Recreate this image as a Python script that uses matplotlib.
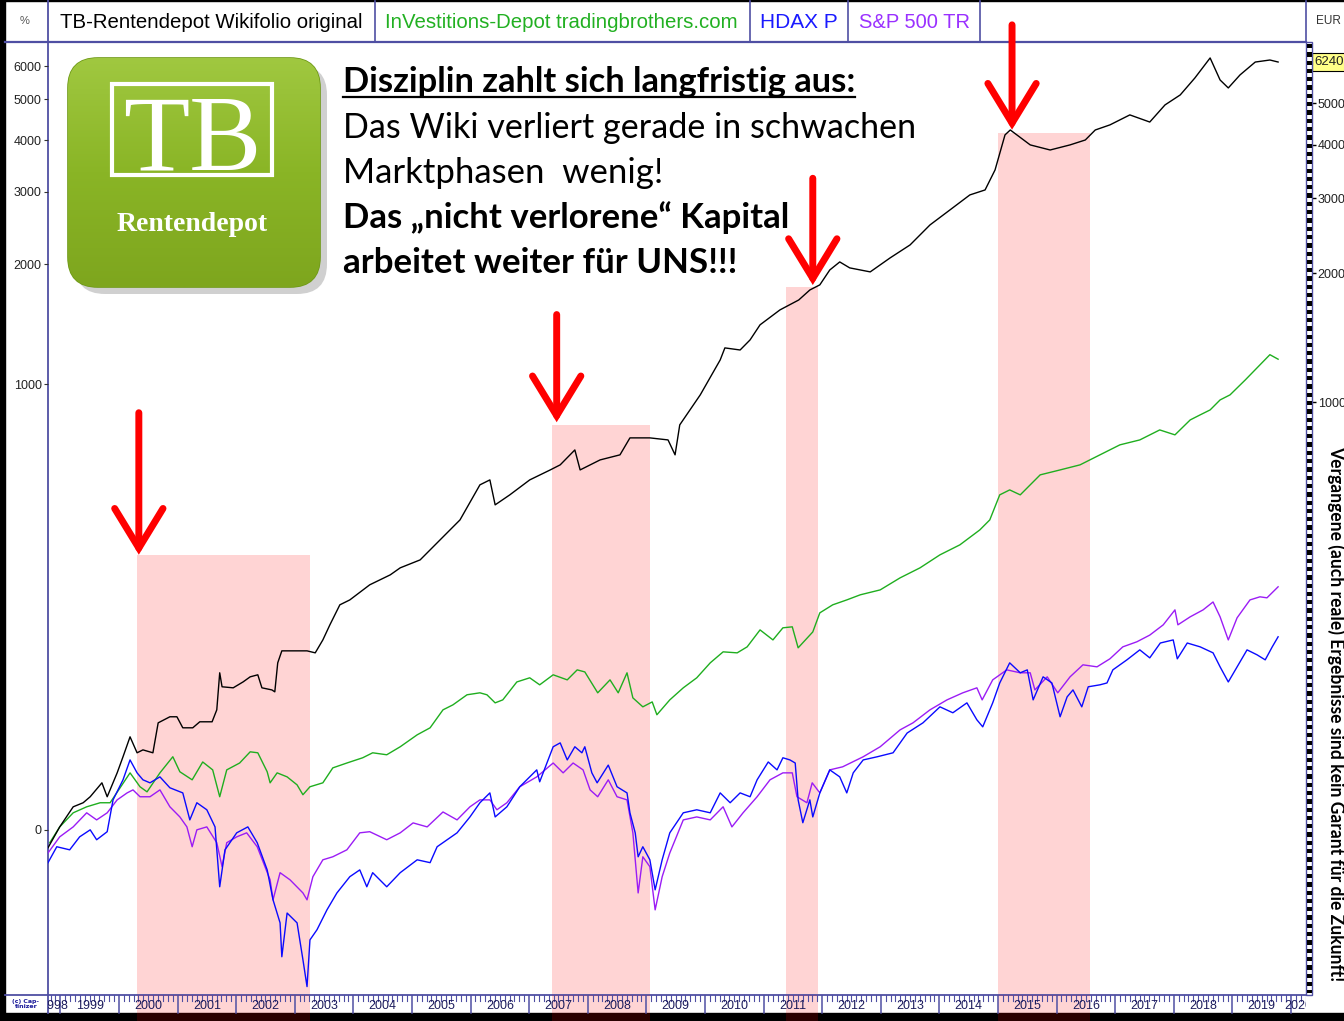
import numpy as np
import matplotlib
matplotlib.use("Agg")
import matplotlib.pyplot as plt
from matplotlib import font_manager
from matplotlib.patches import Rectangle, FancyBboxPatch

# --- data (performance in %) ---
tb_years = [1998.79, 1998.99, 1999.22, 1999.39, 1999.51, 1999.71, 1999.80, 1999.97, 2000.07, 2000.19,
            2000.31, 2000.41, 2000.58, 2000.67, 2000.87, 2000.99, 2001.09, 2001.26, 2001.38, 2001.59,
            2001.67, 2001.72, 2001.76, 2001.95, 2002.12, 2002.24, 2002.37, 2002.44, 2002.61, 2002.66,
            2002.71, 2002.78, 2003.21, 2003.35, 2003.48, 2003.60, 2003.77, 2003.94, 2004.28, 2004.63,
            2004.80, 2005.14, 2005.48, 2005.82, 2006.16, 2006.33, 2006.42, 2006.67, 2007.01, 2007.36,
            2007.53, 2007.78, 2007.87, 2008.21, 2008.55, 2008.72, 2009.06, 2009.37, 2009.49, 2009.57,
            2009.92, 2010.26, 2010.34, 2010.60, 2010.77, 2010.94, 2011.28, 2011.60, 2011.79, 2011.96,
            2012.13, 2012.30, 2012.47, 2012.82, 2013.16, 2013.50, 2013.84, 2014.18, 2014.52, 2014.78,
            2014.95, 2015.12, 2015.21, 2015.55, 2015.89, 2016.23, 2016.49, 2016.66, 2016.91, 2017.25,
            2017.59, 2017.85, 2018.11, 2018.36, 2018.62, 2018.79, 2018.93, 2019.13, 2019.39, 2019.64,
            2019.78]
tb_pct = [-9.2, 1.6, 13.2, 15.7, 19.5, 28.8, 19.5, 35.9, 48.2, 65.0,
          51.4, 53.8, 51.4, 77.9, 83.8, 83.8, 73.2, 73.2, 78.9, 78.9,
          90.8, 132.9, 116.0, 114.8, 121.8, 127.9, 130.4, 114.8, 112.4, 110.2,
          145.7, 162.1, 162.1, 159.3, 178.0, 201.5, 235.8, 244.8, 274.0, 294.6,
          309.8, 327.7, 376.3, 430.4, 540.6, 557.9, 475.2, 507.0, 557.9, 594.2,
          613.4, 673.1, 594.2, 632.6, 652.9, 724.9, 724.9, 715.9, 652.9, 784.8,
          939.9, 1155, 1239, 1224, 1298, 1416, 1543, 1633, 1729, 1780,
          1937, 2027, 1960, 1916, 2074, 2231, 2496, 2714, 2951, 3034,
          3390, 4115, 4228, 3894, 3786, 3894, 4001, 4228, 4348, 4594,
          4417, 4853, 5127, 5627, 6278, 5565, 5327, 5721, 6139, 6208,
          6140]

inv_years = [1998.82, 1998.99, 1999.22, 1999.45, 1999.68, 1999.85, 2000.02, 2000.19, 2000.36, 2000.48,
             2000.70, 2000.92, 2001.04, 2001.25, 2001.43, 2001.60, 2001.72, 2001.84, 2002.06, 2002.24,
             2002.37, 2002.53, 2002.58, 2002.70, 2002.87, 2003.04, 2003.14, 2003.26, 2003.48, 2003.65,
             2003.89, 2004.16, 2004.33, 2004.57, 2004.80, 2005.09, 2005.31, 2005.53, 2005.70, 2005.94,
             2006.16, 2006.28, 2006.42, 2006.55, 2006.79, 2007.01, 2007.18, 2007.41, 2007.65, 2007.82,
             2007.95, 2008.17, 2008.38, 2008.52, 2008.67, 2008.77, 2008.94, 2009.10, 2009.18, 2009.40,
             2009.63, 2009.86, 2010.09, 2010.31, 2010.55, 2010.72, 2010.94, 2011.16, 2011.33, 2011.49,
             2011.59, 2011.84, 2011.96, 2012.18, 2012.42, 2012.65, 2012.99, 2013.33, 2013.67, 2014.01,
             2014.35, 2014.69, 2014.86, 2015.03, 2015.20, 2015.38, 2015.55, 2015.72, 2016.06, 2016.40,
             2016.74, 2017.08, 2017.42, 2017.76, 2018.02, 2018.28, 2018.45, 2018.62, 2018.79, 2018.96,
             2019.22, 2019.47, 2019.64, 2019.78]
inv_pct = [-6.7, 1.6, 9.6, 13.2, 15.7, 15.7, 25.4, 35.9, 26.1, 22.7,
           35.9, 48.2, 36.7, 30.9, 44.1, 38.1, 19.5, 38.1, 43.3, 52.2,
           51.4, 36.7, 28.8, 35.9, 33.0, 27.4, 20.8, 26.1, 28.8, 39.6,
           43.3, 47.4, 51.4, 49.8, 56.4, 66.8, 73.2, 90.8, 96.0, 106.9,
           109.1, 106.9, 98.1, 101.3, 121.7, 126.7, 118.3, 130.4, 124.2, 136.6,
           134.0, 109.1, 124.2, 109.1, 132.9, 103.5, 93.9, 99.1, 85.8, 101.3,
           114.8, 126.7, 145.7, 160.7, 159.3, 167.8, 193.4, 178.0, 196.7, 198.3,
           166.4, 190.2, 221.6, 235.8, 244.8, 254.4, 263.9, 288.3, 309.8, 339.5,
           363.8, 402.6, 430.4, 507.0, 523.4, 507.0, 540.6, 576.0, 594.2, 613.4,
           652.9, 694.5, 715.9, 761.0, 738.4, 808.6, 833.7, 858.9, 911.9, 939.9,
           1027, 1122, 1191, 1160]

hdax_years = [1998.79, 1998.94, 1999.16, 1999.33, 1999.51, 1999.62, 1999.80, 1999.90, 2000.07, 2000.19,
              2000.31, 2000.41, 2000.53, 2000.70, 2000.87, 2001.09, 2001.21, 2001.33, 2001.50, 2001.64,
              2001.72, 2001.81, 2002.01, 2002.20, 2002.36, 2002.53, 2002.63, 2002.75, 2002.78, 2002.87,
              2003.04, 2003.14, 2003.21, 2003.26, 2003.38, 2003.55, 2003.72, 2003.94, 2004.11, 2004.23,
              2004.33, 2004.57, 2004.80, 2005.09, 2005.31, 2005.43, 2005.77, 2005.99, 2006.16, 2006.33,
              2006.42, 2006.62, 2006.84, 2007.13, 2007.18, 2007.41, 2007.53, 2007.65, 2007.78, 2007.90,
              2007.95, 2008.07, 2008.16, 2008.35, 2008.50, 2008.67, 2008.72, 2008.81, 2008.86, 2008.94,
              2009.06, 2009.15, 2009.27, 2009.40, 2009.63, 2009.86, 2010.09, 2010.26, 2010.43, 2010.60,
              2010.77, 2010.89, 2011.08, 2011.23, 2011.33, 2011.45, 2011.54, 2011.59, 2011.67, 2011.79,
              2011.84, 2011.96, 2012.13, 2012.30, 2012.42, 2012.53, 2012.70, 2012.94, 2013.21, 2013.45,
              2013.72, 2014.01, 2014.23, 2014.47, 2014.64, 2014.74, 2014.91, 2015.03, 2015.20, 2015.38,
              2015.50, 2015.60, 2015.77, 2015.92, 2016.06, 2016.18, 2016.28, 2016.43, 2016.54, 2016.74,
              2016.86, 2016.96, 2017.20, 2017.42, 2017.59, 2017.77, 2017.99, 2018.06, 2018.23, 2018.45,
              2018.67, 2018.79, 2018.93, 2019.08, 2019.25, 2019.42, 2019.56, 2019.68, 2019.78]
hdax_pct = [-16.2, -8.7, -10.2, -3.7, 0.0, -5.2, -1.0, 17.5, 30.9, 45.7,
            35.9, 30.9, 28.8, 33.0, 25.4, 22.0, 5.5, 15.7, 11.4, 1.6,
            -26.4, -10.2, -1.6, 1.6, -6.7, -19.4, -31.4, -39.4, -49.5, -36.1,
            -39.4, -50.3, -57.0, -44.7, -41.6, -35.0, -28.8, -22.3, -19.4, -26.4,
            -20.6, -26.4, -20.6, -14.9, -16.2, -8.7, -1.6, 7.2, 15.7, 22.0,
            7.2, 13.2, 26.1, 38.1, 29.5, 56.4, 59.7, 45.7, 56.4, 51.4,
            56.4, 35.9, 28.8, 41.7, 26.1, 22.0, 9.6, -1.6, -13.5, -8.7,
            -14.9, -27.6, -14.9, -1.6, 9.6, 11.4, 9.6, 22.0, 15.7, 22.0,
            19.5, 30.9, 44.1, 38.1, 47.4, 45.7, 43.3, 17.5, 3.9, 17.5,
            7.2, 22.0, 38.1, 33.0, 22.0, 35.9, 45.7, 48.2, 51.4, 68.4,
            77.9, 93.9, 87.8, 98.1, 80.8, 74.1, 98.1, 120.5, 145.7, 132.9,
            136.6, 101.3, 127.9, 120.5, 83.8, 104.6, 112.4, 93.9, 116.0, 118.3,
            120.5, 136.6, 149.7, 163.5, 152.4, 173.4, 178.0, 151.1, 173.4, 167.8,
            159.3, 140.5, 121.7, 140.5, 163.5, 156.6, 149.7, 167.8, 182.7]

spx_years = [1998.79, 1998.99, 1999.22, 1999.45, 1999.62, 1999.80, 1999.97, 2000.14, 2000.24, 2000.36,
             2000.53, 2000.70, 2000.87, 2001.04, 2001.16, 2001.25, 2001.33, 2001.50, 2001.67, 2001.76,
             2001.84, 2002.01, 2002.18, 2002.36, 2002.58, 2002.63, 2002.75, 2002.92, 2003.14, 2003.21,
             2003.31, 2003.48, 2003.65, 2003.89, 2004.11, 2004.28, 2004.57, 2004.80, 2005.02, 2005.26,
             2005.53, 2005.77, 2005.99, 2006.16, 2006.33, 2006.45, 2006.62, 2006.84, 2007.13, 2007.41,
             2007.58, 2007.75, 2007.92, 2008.04, 2008.17, 2008.35, 2008.50, 2008.67, 2008.77, 2008.86,
             2008.94, 2009.06, 2009.15, 2009.27, 2009.40, 2009.63, 2009.86, 2010.09, 2010.31, 2010.46,
             2010.65, 2010.89, 2011.11, 2011.33, 2011.49, 2011.57, 2011.74, 2011.83, 2011.96, 2012.13,
             2012.35, 2012.70, 2012.99, 2013.33, 2013.55, 2013.84, 2014.13, 2014.40, 2014.64, 2014.73,
             2014.91, 2015.15, 2015.38, 2015.55, 2015.63, 2015.84, 2016.02, 2016.23, 2016.45, 2016.69,
             2016.91, 2017.13, 2017.37, 2017.59, 2017.82, 2018.02, 2018.07, 2018.28, 2018.50, 2018.67,
             2018.79, 2018.93, 2019.08, 2019.30, 2019.47, 2019.59, 2019.78]
spx_pct = [-11.7, -3.7, 1.6, 9.6, 5.5, 9.6, 17.5, 22.0, 24.0, 19.5,
           19.5, 24.0, 13.2, 7.2, 1.6, -8.7, 0.0, 1.6, -6.7, -18.0,
           -6.7, -3.7, -1.6, -8.7, -23.6, -31.4, -20.6, -23.6, -28.8, -31.4,
           -22.3, -14.9, -13.5, -10.2, -1.6, -1.0, -5.2, -1.6, 3.8, 1.6,
           10.1, 5.5, 13.2, 17.5, 17.5, 11.4, 15.7, 26.1, 33.0, 43.3,
           35.9, 43.3, 38.1, 24.0, 19.5, 30.9, 19.5, 17.5, -1.6, -28.8,
           -13.5, -18.0, -35.0, -22.3, -11.7, 5.5, 7.2, 5.5, 13.2, 1.6,
           9.6, 19.5, 30.9, 35.9, 35.9, 19.5, 15.7, 28.8, 22.0, 38.1,
           40.4, 48.2, 56.4, 71.3, 77.9, 90.8, 101.3, 109.1, 114.8, 101.3,
           124.2, 136.6, 132.9, 132.9, 112.4, 127.9, 109.1, 127.9, 143.1, 140.5,
           151.1, 167.8, 175.2, 185.3, 201.5, 226.8, 201.5, 214.8, 226.8, 241.0,
           214.8, 178.0, 213.1, 244.8, 250.6, 248.7, 270.0]

weak_start = [2000.31, 2007.39, 2011.38, 2015.00]
weak_end = [2003.26, 2009.06, 2011.93, 2016.57]
arrow_years = [2000.34, 2007.47, 2011.84, 2015.24]

left_ticks = [0, 1000, 2000, 3000, 4000, 5000, 6000]
right_ticks = [1000, 2000, 3000, 4000, 5000]
last_eur = 6240
pct_lim = (-58.9, 6850)
x_lim = (1998.79, 2020.256)

# --- layout ---
W, H, DPI = 1344, 1021, 100
NAVY = '#4f4fa3'

names = {f.name for f in font_manager.fontManager.ttflist}


def pick(*cands):
    for c in cands:
        if c in names:
            return c
    return 'DejaVu Sans'


NARROW = pick('Liberation Sans Narrow', 'Liberation Sans')
SANS = pick('Lato', 'Open Sans', 'DejaVu Sans')
SERIF = pick('Liberation Serif', 'DejaVu Serif')

fig = plt.figure(figsize=(W / DPI, H / DPI), dpi=DPI, facecolor='white')
renderer = fig.canvas.get_renderer()


def fit(t, width=None, height=None):
    # scale the font so the text covers the same extent as in the reference
    bb = t.get_window_extent(renderer)
    k = width / bb.width if width else height / bb.height
    t.set_fontsize(t.get_fontsize() * k)


# pixel-coordinate layer behind the chart
deco = fig.add_axes([0, 0, 1, 1], zorder=0)
deco.set_xlim(0, W)
deco.set_ylim(H, 0)
deco.axis('off')

# pixel-coordinate layer in front
front = fig.add_axes([0, 0, 1, 1], zorder=3)
front.set_xlim(0, W)
front.set_ylim(H, 0)
front.axis('off')
front.patch.set_alpha(0)

ax = fig.add_axes([48 / W, 1 - 995 / H, 1258 / W, 953 / H], zorder=2)
ax.patch.set_alpha(0)
ax.set_yscale('log')
factor = lambda p: 1 + np.asarray(p, dtype=float) / 100.0
ax.set_ylim(factor(pct_lim[0]), factor(pct_lim[1]))
ax.set_xlim(*x_lim)

ax.plot(inv_years, factor(inv_pct), color='#1fae1f', lw=1.0, zorder=3)
ax.plot(spx_years, factor(spx_pct), color='#9b1cf5', lw=1.0, zorder=3)
ax.plot(hdax_years, factor(hdax_pct), color='#0a0aff', lw=1.0, zorder=3)
ax.plot(tb_years, factor(tb_pct), color='black', lw=1.0, zorder=4)

# weak market phases
phase_tops = [0.462, 0.598, 0.743, 0.905]
for a, b, top in zip(weak_start, weak_end, phase_tops):
    ax.axvspan(a, b, ymin=0, ymax=top, facecolor='red', alpha=0.17, lw=0, zorder=1)

# red arrows
arrow_tail = [0.611, 0.714, 0.857, 1.018]
arrow_tip = [0.462, 0.601, 0.745, 0.908]
for x, t0, t1 in zip(arrow_years, arrow_tail, arrow_tip):
    ax.annotate('', xy=(x, t1), xytext=(x, t0), xycoords=('data', 'axes fraction'),
                textcoords=('data', 'axes fraction'), annotation_clip=False,
                arrowprops=dict(arrowstyle='->,head_length=0.95,head_width=0.58',
                                mutation_scale=30, lw=5, color='#ff0000',
                                shrinkA=0, shrinkB=0, joinstyle='miter'),
                zorder=6)

ax.set_xticks([])
ax.set_yticks(factor(left_ticks))
ax.set_yticklabels([str(v) for v in left_ticks])
ax.yaxis.set_minor_locator(matplotlib.ticker.NullLocator())
ax.tick_params(axis='y', direction='out', length=3, width=0.8, color='#333333',
               labelsize=9, labelcolor='#222222', pad=1.5)
for lab in ax.get_yticklabels():
    lab.set_family(NARROW)
for s in ['left', 'right']:
    ax.spines[s].set_visible(False)
for s in ['top', 'bottom']:
    ax.spines[s].set_color(NAVY)
    ax.spines[s].set_linewidth(1.3)

# right axis in EUR
ax2 = ax.twinx()
ax2.set_zorder(2)
ax2.patch.set_alpha(0)
ax2.set_yscale('log')
ax2.set_ylim(100 * factor(pct_lim[0]), 100 * factor(pct_lim[1]))
ax2.set_yticks(right_ticks)
ax2.set_yticklabels([str(v) for v in right_ticks])
ax2.yaxis.set_minor_locator(matplotlib.ticker.NullLocator())
ax2.tick_params(axis='y', direction='out', length=7.5, width=1, color='black',
                labelsize=9, labelcolor='#222222', pad=1)
for lab in ax2.get_yticklabels():
    lab.set_family(NARROW)
for s in ax2.spines.values():
    s.set_visible(False)
ax2.annotate(str(last_eur), xy=(1, last_eur), xycoords=('axes fraction', 'data'),
             xytext=(6.0, 0), textcoords='offset points', ha='left', va='center',
             fontsize=9.5, family=NARROW, color='#222222', annotation_clip=False,
             bbox=dict(boxstyle='square,pad=0.2', fc='#ffff88', ec='black', lw=0.8))

# time axis band
ax_t = fig.add_axes([48 / W, 0, 1258 / W, 26 / H], zorder=2)
ax_t.patch.set_alpha(0)
ax_t.set_xlim(*x_lim)
ax_t.set_ylim(0, 1)
ax_t.axis('off')
band = 8 / 26
for a, b in zip(weak_start, weak_end):
    ax_t.axvspan(a, b, facecolor='red', alpha=0.17, lw=0, zorder=1)
for yr in range(1998, 2021):
    if x_lim[0] < yr < x_lim[1]:
        ax_t.plot([yr, yr], [band, 1], color=NAVY, lw=1.1, zorder=3)
    for m in range(1, 12):
        t = yr + m / 12
        if x_lim[0] < t < x_lim[1]:
            ax_t.plot([t, t], [0.76, 1], color=NAVY, lw=0.8, zorder=3)
    lo, hi = max(yr, x_lim[0]), min(yr + 1, x_lim[1])
    if hi > lo:
        ax_t.text((lo + hi) / 2, 0.56, str(yr), ha='center', va='center', fontsize=9,
                  family=NARROW, color='#1c1c5c', clip_on=True, zorder=4)

# frame and header
deco.add_patch(Rectangle((0, 0), 5, H, color='black', zorder=1))
deco.add_patch(Rectangle((0, 1013), W, 8, color='black', zorder=1))
deco.add_patch(Rectangle((0, 0), W, 1.5, color='black', zorder=1))
deco.plot([48, 48], [0, 1013], color=NAVY, lw=1.3, zorder=2)
deco.plot([5, 48], [995, 995], color=NAVY, lw=1.3, zorder=2)
deco.plot([5, 1306], [42, 42], color=NAVY, lw=1.6, zorder=2)
for xs in [375, 750, 848, 980, 1306]:
    deco.plot([xs, xs], [1.5, 42], color=NAVY, lw=1.2, zorder=2)

deco.text(25, 21, '%', ha='center', va='center', fontsize=8, color='#555555', family=NARROW)
header = [(60, 302, 'TB-Rentendepot Wikifolio original', 'black'),
          (385, 352, 'InVestitions-Depot tradingbrothers.com', '#22b022'),
          (760, 78, 'HDAX P', '#1a1aff'),
          (859, 111, 'S&P 500 TR', '#9a30ff')]
for xh, wh, txt, col in header:
    t = deco.text(xh, 22, txt, ha='left', va='center', fontsize=16, color=col, family=NARROW)
    fit(t, width=wh)
deco.text(1316, 21, 'EUR', ha='left', va='center', fontsize=8.5, color='#333333', family=NARROW)
deco.text(26, 1004, '(c) Cap-\ntinizer', ha='center', va='center', fontsize=4.5,
          color='#1a1a9a', fontweight='bold', linespacing=0.9)

# checkered right axis strip
front.add_patch(Rectangle((1306, 42), 6, 953, fc='white', ec=NAVY, lw=1))
yy = 44.0
while yy < 993:
    front.add_patch(Rectangle((1306.5, yy), 5, min(4.3, 993 - yy), fc='black', lw=0))
    yy += 8.3

# logo
deco.add_patch(FancyBboxPatch((75, 65), 252, 229, boxstyle='round,pad=0,rounding_size=30',
                              fc='#7a7a7a', ec='none', alpha=0.35, zorder=2))
logo = FancyBboxPatch((68, 58), 252, 229, boxstyle='round,pad=0,rounding_size=30',
                      fc='#8ab526', ec='#6f9a18', lw=1.2, zorder=3)
deco.add_patch(logo)
grad = np.linspace(0, 1, 100).reshape(-1, 1)
cmap = matplotlib.colors.LinearSegmentedColormap.from_list('g', ['#a0c840', '#8ab526', '#7ea61e'])
im = deco.imshow(grad, cmap=cmap, extent=(68, 320, 287, 58), aspect='auto', zorder=3.5)
im.set_clip_path(logo)
deco.add_patch(Rectangle((112, 84), 160, 91, fill=False, ec='white', lw=3, zorder=4))
deco.text(192, 170, 'TB', ha='center', va='baseline', fontsize=78, color='white',
          family=SERIF, zorder=5)
deco.text(192, 231, 'Rentendepot', ha='center', va='baseline', fontsize=20, color='white',
          family=SERIF, fontweight='bold', zorder=5)

# message text
lines = [('Disziplin zahlt sich langfristig aus:', 'bold', 92, 515),
         ('Das Wiki verliert gerade in schwachen', 'normal', 138, 573),
         ('Marktphasen  wenig!', 'normal', 183, 320),
         ('Das \u201enicht verlorene\u201c Kapital', 'bold', 228, 447),
         ('arbeitet weiter f\u00fcr UNS!!!', 'bold', 273, 395)]
texts = []
for txt, wt, base, wl in lines:
    t = deco.text(343, base, txt, ha='left', va='baseline', fontsize=24,
                  fontweight=wt, family=SANS, color='black', zorder=5)
    fit(t, width=wl)
    texts.append(t)

disc = deco.text(1336, 714, 'Vergangene (auch reale) Ergebnisse sind kein Garant f\u00fcr die Zukunft!',
                 rotation=-90, ha='center', va='center', fontsize=12, fontweight='bold',
                 family=SANS, color='black', zorder=5)
fit(disc, height=532)

fig.canvas.draw()
bb = texts[0].get_window_extent(fig.canvas.get_renderer())
deco.plot([bb.x0, bb.x1], [97, 97], color='black', lw=1.6, zorder=5)

fig.savefig('out.png', dpi=DPI)
